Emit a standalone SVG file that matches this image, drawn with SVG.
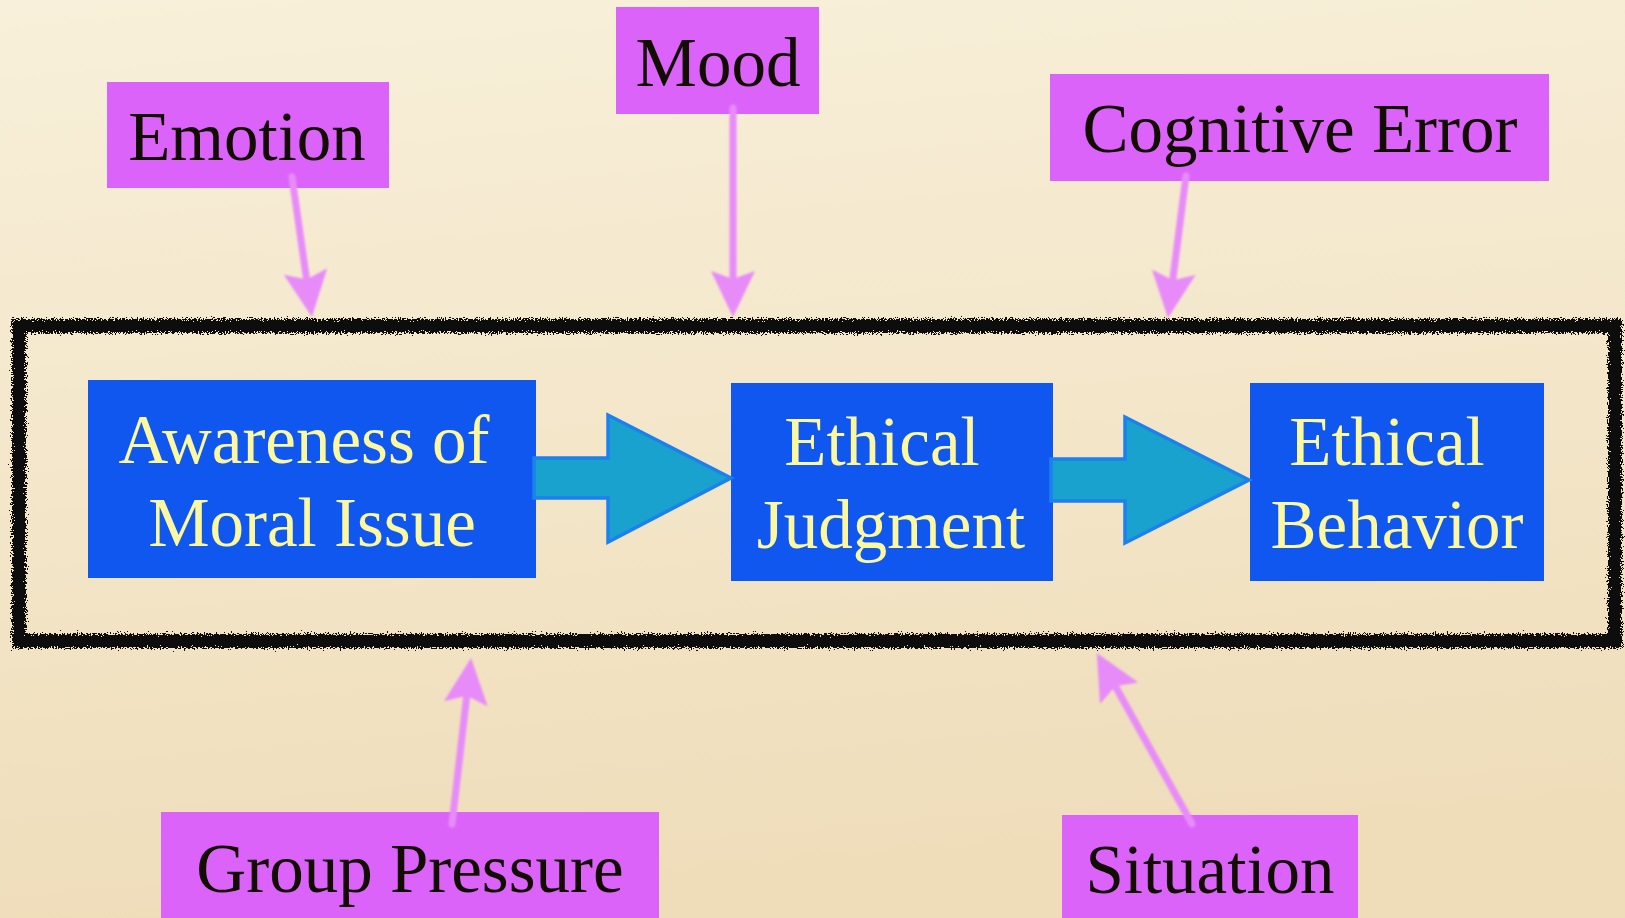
<svg xmlns="http://www.w3.org/2000/svg" width="1625" height="918" viewBox="0 0 1625 918">
  <defs>
    <linearGradient id="bg" x1="0" y1="0" x2="0.15" y2="1">
      <stop offset="0" stop-color="#F8F0DA"/>
      <stop offset="1" stop-color="#EFDDBA"/>
    </linearGradient>
    <filter id="rough" filterUnits="userSpaceOnUse" x="0" y="290" width="1625" height="390">
      <feTurbulence type="fractalNoise" baseFrequency="0.7" numOctaves="3" seed="3" result="n"/>
      <feDisplacementMap in="SourceGraphic" in2="n" scale="10" xChannelSelector="R" yChannelSelector="G" result="d"/>
      <feGaussianBlur in="d" stdDeviation="0.7"/>
    </filter>
    <filter id="soft" filterUnits="userSpaceOnUse" x="0" y="0" width="1625" height="918">
      <feGaussianBlur stdDeviation="0.8"/>
    </filter>
    <marker id="pinkhead" viewBox="0 0 46 44" refX="6" refY="22" markerWidth="46" markerHeight="44" markerUnits="userSpaceOnUse" orient="auto">
      <path d="M0,0 L46,22 L0,44 L8,22 Z" fill="#E78BF9"/>
    </marker>
    <style>
      .blue { fill: #1057F0; }
      .ytxt { font-family: "Liberation Serif", "Times New Roman", serif; font-size: 69px; fill: #FBF8A0; text-anchor: middle; }
      .pbox { fill: #DB63F9; }
      .ktxt { font-family: "Liberation Serif", "Times New Roman", serif; font-size: 69px; fill: #110D02; text-anchor: middle; }
      .pink { stroke: #E78BF9; stroke-width: 7; fill: none; stroke-linecap: round; }
      .flow { fill: #18A2CD; stroke: #1C80EE; stroke-width: 3.5; stroke-linejoin: miter; }
    </style>
  </defs>

  <rect x="0" y="0" width="1625" height="918" fill="url(#bg)"/>

  <g id="frame">
    <rect x="19" y="326" width="1596" height="315" fill="none" stroke="#070707" stroke-width="14" filter="url(#rough)"/>
  </g>

  <g id="awareness">
    <rect class="blue" x="88" y="380" width="448" height="198"/>
    <text class="ytxt" x="304" y="463">Awareness of</text>
    <text class="ytxt" x="312" y="546">Moral Issue</text>
  </g>

  <g id="judgment">
    <rect class="blue" x="731" y="383" width="322" height="198"/>
    <text class="ytxt" x="882" y="465">Ethical</text>
    <text class="ytxt" x="891" y="548">Judgment</text>
  </g>

  <g id="behavior">
    <rect class="blue" x="1250" y="383" width="294" height="198"/>
    <text class="ytxt" x="1387" y="465">Ethical</text>
    <text class="ytxt" x="1397" y="548">Behavior</text>
  </g>

  <g id="emotion">
    <rect class="pbox" x="107" y="82" width="282" height="106"/>
    <text class="ktxt" x="247" y="160">Emotion</text>
  </g>

  <g id="mood">
    <rect class="pbox" x="616" y="7" width="203" height="107"/>
    <text class="ktxt" x="718" y="86">Mood</text>
  </g>

  <g id="cognitive-error">
    <rect class="pbox" x="1050" y="74" width="499" height="107"/>
    <text class="ktxt" x="1300" y="152">Cognitive Error</text>
  </g>

  <g id="group-pressure">
    <rect class="pbox" x="161" y="812" width="498" height="110"/>
    <text class="ktxt" x="410" y="892">Group Pressure</text>
  </g>

  <g id="situation">
    <rect class="pbox" x="1062" y="815" width="296" height="107"/>
    <text class="ktxt" x="1210" y="893">Situation</text>
  </g>

  <g id="connectors">
    <polygon class="flow" points="534,458 608,458 608,415 731,478 608,542 608,498 534,498"/>
    <polygon class="flow" points="1051,459 1125,459 1125,417 1249,480 1125,543 1125,501 1051,501"/>
    <g filter="url(#soft)">
      <line class="pink" x1="292" y1="177" x2="306.3" y2="277.4" marker-end="url(#pinkhead)"/>
      <line class="pink" x1="733" y1="108" x2="733" y2="277" marker-end="url(#pinkhead)"/>
      <line class="pink" x1="1186" y1="176" x2="1173" y2="278.3" marker-end="url(#pinkhead)"/>
      <line class="pink" x1="452" y1="824" x2="466.5" y2="697.8" marker-end="url(#pinkhead)"/>
      <line class="pink" x1="1192" y1="824" x2="1116.3" y2="688" marker-end="url(#pinkhead)"/>
    </g>
  </g>
</svg>
